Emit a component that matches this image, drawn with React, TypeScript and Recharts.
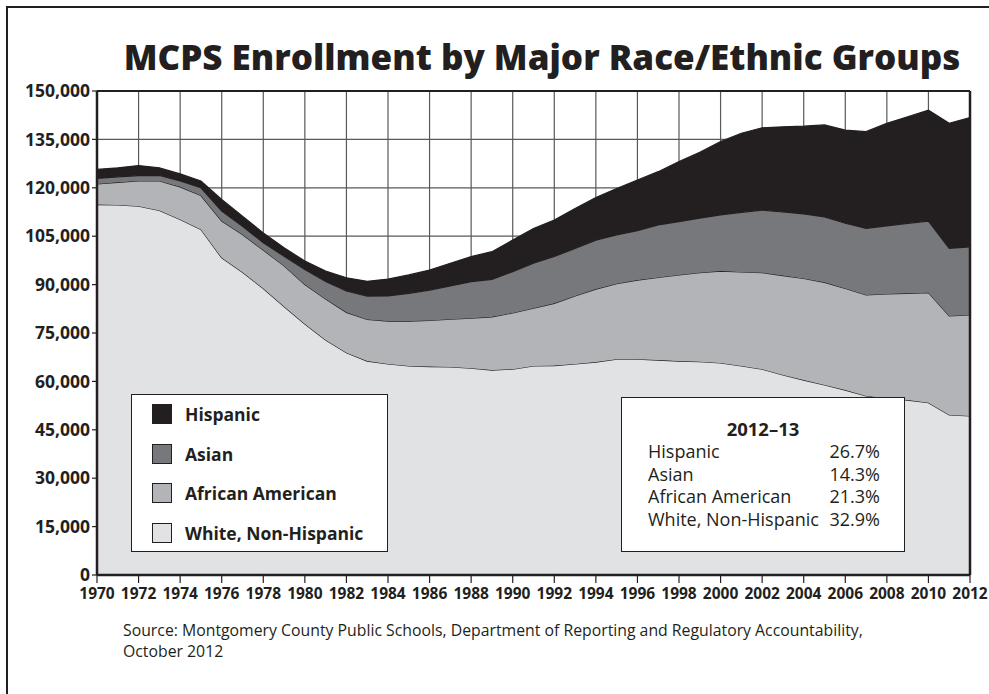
import React from "react";
import { AreaChart, Area, XAxis, YAxis, CartesianGrid, ReferenceLine } from "recharts";

const years = [
  1970, 1971, 1972, 1973, 1974, 1975, 1976, 1977, 1978, 1979, 1980, 1981, 1982, 1983, 1984,
  1985, 1986, 1987, 1988, 1989, 1990, 1991, 1992, 1993, 1994, 1995, 1996, 1997, 1998, 1999,
  2000, 2001, 2002, 2003, 2004, 2005, 2006, 2007, 2008, 2009, 2010, 2011, 2012,
];

const white = [
  114800, 114700, 114300, 113000, 110200, 107100, 98300, 93800, 88800, 83200, 77800, 72800,
  68900, 66300, 65400, 64800, 64600, 64500, 64100, 63500, 63800, 64800, 64900, 65400, 66000,
  66900, 66900, 66600, 66300, 66100, 65700, 64800, 63800, 62000, 60400, 58900, 57300, 55500,
  54800, 54200, 53400, 49600, 49300,
];

const africanAmerican = [
  6400, 7000, 7800, 9100, 10100, 10500, 11400, 11700, 11900, 12600, 12200, 12700, 12500, 12900,
  13300, 13900, 14300, 14800, 15500, 16500, 17400, 17900, 19300, 21100, 22600, 23400, 24500,
  25600, 26700, 27600, 28500, 29100, 29900, 30800, 31500, 31800, 31500, 31300, 32300, 33100,
  34100, 30700, 31300,
];

const asian = [
  1700, 1700, 1700, 1700, 1800, 2400, 3100, 2600, 2300, 3000, 4700, 5500, 6600, 7200, 7800,
  8600, 9400, 10300, 11300, 11600, 12800, 13900, 14500, 14700, 15200, 15100, 15300, 16300,
  16500, 16900, 17400, 18500, 19400, 19700, 20000, 20300, 20200, 20600, 21100, 21700, 22200,
  20900, 21100,
];

const hispanic = [
  2800, 2800, 3100, 2400, 2200, 2100, 3600, 3100, 3000, 2600, 2600, 3200, 4100, 4600, 5200,
  5700, 6200, 7000, 7800, 8600, 9800, 10800, 11300, 12400, 13200, 14400, 15700, 16500, 18600,
  20400, 22700, 24500, 25500, 26400, 27200, 28500, 28900, 30000, 31800, 33000, 34400, 38800,
  40100,
];

const xTicks = [
  1970, 1972, 1974, 1976, 1978, 1980, 1982, 1984, 1986, 1988, 1990, 1992, 1994, 1996, 1998,
  2000, 2002, 2004, 2006, 2008, 2010, 2012,
];
const yTicks = [0, 15000, 30000, 45000, 60000, 75000, 90000, 105000, 120000, 135000, 150000];

const groups = ["Hispanic", "Asian", "African American", "White, Non-Hispanic"];
const groupColors = ["#231f20", "#77787b", "#b2b4b7", "#e1e2e4"];
const shares2012 = ["26.7%", "14.3%", "21.3%", "32.9%"];

const INK = "#231f20";
const FONT = "'Open Sans', sans-serif";

const data = years.map((year, i) => ({
  year,
  white: white[i],
  africanAmerican: africanAmerican[i],
  asian: asian[i],
  hispanic: hispanic[i],
}));

export default function App() {
  return (
    <div
      style={{
        position: "fixed",
        left: 0,
        top: 0,
        width: 989,
        height: 694,
        overflow: "hidden",
        background: "#fff",
        fontFamily: FONT,
        color: INK,
      }}
    >
      {/* outer frame, runs off the right and bottom edges */}
      <div
        style={{
          position: "absolute",
          left: 6,
          top: 6,
          width: 1100,
          height: 900,
          border: `2px solid ${INK}`,
        }}
      />

      <div
        style={{
          position: "absolute",
          left: 542,
          top: 39,
          transform: "translateX(-50%)",
          whiteSpace: "nowrap",
          fontSize: 35,
          lineHeight: "35px",
          fontWeight: 800,
        }}
      >
        MCPS Enrollment by Major Race/Ethnic Groups
      </div>

      <div style={{ position: "absolute", left: 0, top: 0 }}>
        <AreaChart
          width={989}
          height={694}
          data={data}
          margin={{ top: 91, right: 19, bottom: 89, left: 27 }}
        >
          <CartesianGrid stroke="#58595b" strokeWidth={1.2} />
          <XAxis
            dataKey="year"
            type="number"
            domain={[1970, 2012]}
            ticks={xTicks}
            interval={0}
            height={30}
            tickSize={8}
            tickMargin={5}
            axisLine={{ stroke: INK, strokeWidth: 2.5 }}
            tickLine={{ stroke: INK, strokeWidth: 1.2 }}
            tick={{ fill: INK, fontSize: 15.5, fontWeight: 700, fontFamily: FONT }}
          />
          <YAxis
            type="number"
            domain={[0, 150000]}
            ticks={yTicks}
            interval={0}
            width={70}
            tickSize={5}
            tickMargin={2}
            axisLine={{ stroke: INK, strokeWidth: 2.5 }}
            tickLine={{ stroke: INK, strokeWidth: 1.2 }}
            tick={{ fill: INK, fontSize: 17.5, fontWeight: 700, fontFamily: FONT }}
            tickFormatter={(v: number) => v.toLocaleString("en-US")}
          />
          <Area
            type="linear"
            dataKey="white"
            stackId="1"
            stroke={INK}
            strokeWidth={1.2}
            fill={groupColors[3]}
            fillOpacity={1}
            dot={false}
            activeDot={false}
            isAnimationActive={false}
          />
          <Area
            type="linear"
            dataKey="africanAmerican"
            stackId="1"
            stroke={INK}
            strokeWidth={1.2}
            fill={groupColors[2]}
            fillOpacity={1}
            dot={false}
            activeDot={false}
            isAnimationActive={false}
          />
          <Area
            type="linear"
            dataKey="asian"
            stackId="1"
            stroke={INK}
            strokeWidth={1.2}
            fill={groupColors[1]}
            fillOpacity={1}
            dot={false}
            activeDot={false}
            isAnimationActive={false}
          />
          <Area
            type="linear"
            dataKey="hispanic"
            stackId="1"
            stroke={INK}
            strokeWidth={1.2}
            fill={groupColors[0]}
            fillOpacity={1}
            dot={false}
            activeDot={false}
            isAnimationActive={false}
          />
          <ReferenceLine y={150000} stroke={INK} strokeWidth={2} />
          <ReferenceLine x={2012} stroke={INK} strokeWidth={2.5} />
        </AreaChart>
      </div>

      {/* legend box */}
      <div
        style={{
          position: "absolute",
          left: 131,
          top: 394,
          width: 255,
          height: 156,
          background: "#fff",
          border: `1.5px solid ${INK}`,
        }}
      >
        {groups.map((g, i) => (
          <div
            key={g}
            style={{
              position: "absolute",
              left: 20,
              top: 8 + i * 39.5,
              height: 22,
              display: "flex",
              alignItems: "center",
              whiteSpace: "nowrap",
            }}
          >
            <div
              style={{
                width: 18,
                height: 18,
                background: groupColors[i],
                border: `1.5px solid ${INK}`,
              }}
            />
            <span style={{ marginLeft: 13, fontSize: 17.5, fontWeight: 700 }}>{g}</span>
          </div>
        ))}
      </div>

      {/* 2012-13 shares box */}
      <div
        style={{
          position: "absolute",
          left: 621,
          top: 397,
          width: 282,
          height: 153,
          background: "#fff",
          border: `1.5px solid ${INK}`,
        }}
      >
        <div
          style={{
            position: "absolute",
            left: 0,
            width: 282,
            top: 20,
            textAlign: "center",
            fontSize: 18.5,
            lineHeight: "22.5px",
            fontWeight: 700,
          }}
        >
          2012–13
        </div>
        {groups.map((g, i) => (
          <div
            key={g}
            style={{
              position: "absolute",
              left: 26,
              width: 232,
              top: 42 + i * 22.5,
              display: "flex",
              justifyContent: "space-between",
              whiteSpace: "nowrap",
              fontSize: 18,
              lineHeight: "22.5px",
            }}
          >
            <span>{g}</span>
            <span>{shares2012[i]}</span>
          </div>
        ))}
      </div>

      <div
        style={{
          position: "absolute",
          left: 123,
          top: 620,
          fontSize: 15.8,
          lineHeight: "21px",
          whiteSpace: "nowrap",
        }}
      >
        Source: Montgomery County Public Schools, Department of Reporting and Regulatory Accountability,
        <br />
        October 2012
      </div>
    </div>
  );
}
